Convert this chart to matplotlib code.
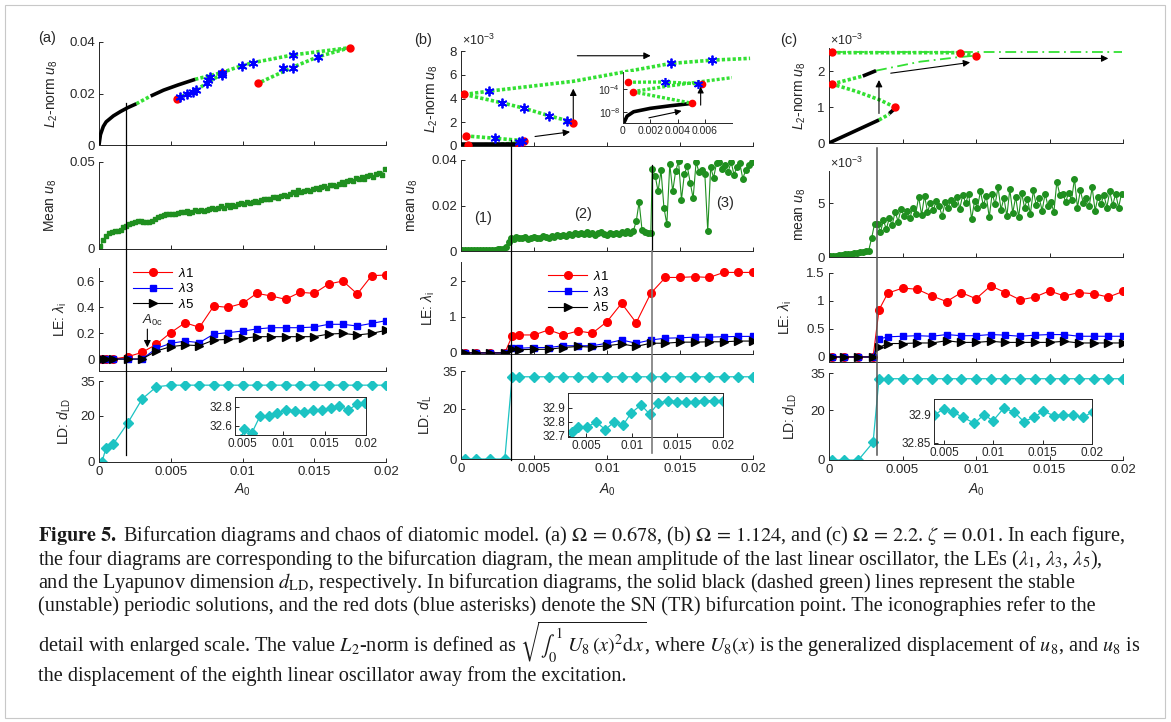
"""Bifurcation diagrams, mean amplitude, LEs and Lyapunov dimension (figure 5 recreation)."""

import numpy as np
import matplotlib
matplotlib.use("Agg")
import matplotlib.pyplot as plt
from matplotlib.lines import Line2D
from matplotlib.patches import Rectangle

W, H = 1171, 722

# ---------------- data: panel (a) ----------------
A_BLACK1_X = [0, 0.0001, 0.0003, 0.0005, 0.001, 0.0015, 0.002, 0.0026]
A_BLACK1_Y = [0, 0.004, 0.0072, 0.009, 0.0113, 0.013, 0.0145, 0.016]
A_GREEN0_X = [0.0026, 0.0036]
A_GREEN0_Y = [0.016, 0.019]
A_BLACK2_X = [0.0036, 0.0045, 0.0055, 0.0067]
A_BLACK2_Y = [0.019, 0.0213, 0.0233, 0.0255]
A_GREEN1_X = [0.0067, 0.00855, 0.00994, 0.01075, 0.01354, 0.01749]
A_GREEN1_Y = [0.0255, 0.0281, 0.0308, 0.0320, 0.0350, 0.0378]
A_GREEN2_X = [0.01749, 0.01528, 0.01354, 0.0111]
A_GREEN2_Y = [0.0378, 0.0343, 0.0303, 0.0240]
A_GREEN3_X = [0.00541, 0.00611, 0.00674, 0.0075, 0.00855]
A_GREEN3_Y = [0.01786, 0.0198, 0.0212, 0.0240, 0.0275]
A_SN_X = [0.00541, 0.01749, 0.0111, 0.00855]
A_SN_Y = [0.01786, 0.0378, 0.0240, 0.0278]
A_TR_X = [0.00564, 0.00611, 0.00657, 0.00674, 0.0075, 0.00757, 0.00773, 0.00855,
          0.00855, 0.00994, 0.01075, 0.01284, 0.01354, 0.01354, 0.01528]
A_TR_Y = [0.01877, 0.0198, 0.0207, 0.0212, 0.0240, 0.0252, 0.0265, 0.0281,
          0.0272, 0.0308, 0.0320, 0.0300, 0.0300, 0.0350, 0.0343]

A_MEAN = [0.0015, 0.0050, 0.0075, 0.0092, 0.0100, 0.0102, 0.0104, 0.0112, 0.0124, 0.0135,
          0.0145, 0.0152, 0.0158, 0.0161, 0.0160, 0.0157, 0.0154, 0.0153, 0.0160, 0.0172,
          0.0185, 0.0192, 0.0198, 0.0200, 0.0201, 0.0203, 0.0199, 0.0207, 0.0210, 0.0213,
          0.0217, 0.0208, 0.0215, 0.0222, 0.0216, 0.0226, 0.0219, 0.0224, 0.0231, 0.0234,
          0.0229, 0.0238, 0.0245, 0.0236, 0.0250, 0.0243, 0.0255, 0.0248, 0.0258, 0.0262,
          0.0256, 0.0268, 0.0264, 0.0272, 0.0277, 0.0270, 0.0282, 0.0286, 0.0290, 0.0285,
          0.0296, 0.0300, 0.0294, 0.0305, 0.0312, 0.0306, 0.0318, 0.0330, 0.0314, 0.0338,
          0.0326, 0.0334, 0.0340, 0.0333, 0.0345, 0.0350, 0.0342, 0.0356, 0.0362, 0.0352,
          0.0365, 0.0370, 0.0362, 0.0376, 0.0385, 0.0372, 0.0392, 0.0398, 0.0388, 0.0408,
          0.0400, 0.0412, 0.0403, 0.0418, 0.0425, 0.0416, 0.0430, 0.0437, 0.0428, 0.0458]

A_LE_X = [0.0002, 0.0005, 0.001, 0.002, 0.003, 0.004, 0.005, 0.006, 0.007, 0.008, 0.009,
          0.010, 0.011, 0.012, 0.013, 0.014, 0.015, 0.016, 0.017, 0.018, 0.019, 0.020]
A_L1 = [0.0, 0.0, 0.0, 0.018, 0.051, 0.113, 0.203, 0.279, 0.244, 0.408, 0.397,
        0.428, 0.505, 0.485, 0.459, 0.513, 0.505, 0.577, 0.600, 0.500, 0.641, 0.646]
A_L3 = [0, 0, 0, 0, 0, 0.082, 0.121, 0.138, 0.126, 0.192, 0.203,
        0.215, 0.231, 0.241, 0.241, 0.241, 0.246, 0.267, 0.267, 0.254, 0.274, 0.295]
A_L5 = [0, 0, 0, 0, 0, 0.062, 0.095, 0.108, 0.103, 0.146, 0.151,
        0.159, 0.172, 0.172, 0.172, 0.172, 0.172, 0.192, 0.197, 0.185, 0.197, 0.221]
A_LD = [0, 6.2, 7.8, 16.8, 27.2, 32.5, 33.2, 33.2, 33.2, 33.2, 33.2,
        33.2, 33.2, 33.2, 33.2, 33.2, 33.2, 33.2, 33.2, 33.2, 33.2, 33.2]
A_INS_X = [0.0049, 0.00524, 0.00617, 0.00718, 0.00827, 0.00927, 0.01032, 0.01141, 0.0125,
           0.01355, 0.01464, 0.01573, 0.01677, 0.01786, 0.01895, 0.01988]
A_INS_Y = [32.46, 32.565, 32.523, 32.705, 32.705, 32.734, 32.768, 32.761, 32.751,
           32.768, 32.768, 32.789, 32.814, 32.768, 32.832, 32.845]
A_CRIT = 0.00186

# ---------------- data: panel (b) ----------------  (top values in 1e-3)
B_GREEN1_X = [0.00023, 0.00192, 0.00769, 0.01436, 0.01721, 0.0198]
B_GREEN1_Y = [4.34, 4.62, 5.45, 6.95, 7.23, 7.38]
B_GREEN2_X = [0.00023, 0.00283, 0.00432, 0.00603, 0.00728, 0.00769]
B_GREEN2_Y = [4.34, 3.63, 3.18, 2.55, 2.13, 1.90]
B_GREEN3_X = [0.00032, 0.00233, 0.0043]
B_GREEN3_Y = [0.85, 0.65, 0.45]
B_GREEN4_X = [0.0005, 0.0025, 0.0041]
B_GREEN4_Y = [0.06, 0.15, 0.25]
B_BLACK_X = [0, 0.0042]
B_BLACK_Y = [0.05, 0.05]
B_SN_X = [0.00023, 0.00769, 0.00032, 0.0005, 0.00397, 0.00432]
B_SN_Y = [4.34, 1.90, 0.85, 0.06, 0.02, 0.43]
B_TR_X = [0.00192, 0.00283, 0.00432, 0.00603, 0.00728, 0.01436, 0.01721, 0.00233, 0.00416, 0.0040]
B_TR_Y = [4.62, 3.63, 3.18, 2.55, 2.13, 6.95, 7.23, 0.65, 0.43, 0.30]

# inset of (b) top, log10 of L2-norm
B_INS_BLACK_X = [0.0001, 0.0003, 0.00078, 0.002, 0.0035, 0.0051]
B_INS_BLACK_LOG = [-9.7, -8.7, -7.95, -7.36, -6.9, -6.49]
B_INS_G1_X = [0.00037, 0.0031, 0.0055]
B_INS_G1_LOG = [-2.83, -2.78, -3.1]
B_INS_G2_X = [0.0007, 0.003, 0.0057, 0.008]
B_INS_G2_LOG = [-4.47, -3.6, -2.73, -2.03]
B_INS_G3_X = [0.0007, 0.0051]
B_INS_G3_LOG = [-4.47, -6.49]
B_INS_SN_X = [0.00037, 0.0007, 0.0051, 0.0058]
B_INS_SN_LOG = [-2.83, -4.47, -6.49, -3.18]
B_INS_TR_X = [0.0031, 0.0055]
B_INS_TR_LOG = [-2.73, -3.18]

B_MEAN_1 = [0.0003, 0.0003, 0.0003, 0.0003, 0.0004, 0.0004, 0.0004, 0.0005, 0.0005,
            0.0005, 0.0006, 0.0006, 0.0007, 0.0008, 0.0010, 0.0018, 0.0040]
B_MEAN_2 = [0.0058, 0.0052, 0.0060, 0.0055, 0.0057, 0.0062, 0.0054, 0.0058, 0.0063, 0.0059,
            0.0056, 0.0064, 0.0061, 0.0058, 0.0066, 0.0062, 0.0069, 0.0064, 0.0072, 0.0067,
            0.0075, 0.0070, 0.0078, 0.0073, 0.0080, 0.0076, 0.0082, 0.0074, 0.0079, 0.0071,
            0.0077, 0.0083, 0.0075, 0.0069, 0.0078, 0.0073, 0.0080, 0.0076, 0.0084, 0.0079,
            0.0086, 0.0081, 0.0088, 0.0130, 0.0215, 0.0092, 0.0084, 0.0080, 0.0077]
B_MEAN_3 = [0.0360, 0.0330, 0.0262, 0.0355, 0.0190, 0.0118, 0.0382, 0.0262, 0.0350, 0.0395,
            0.0225, 0.0340, 0.0372, 0.0300, 0.0232, 0.0390, 0.0348, 0.0355, 0.0340, 0.0088,
            0.0368, 0.0322, 0.0385, 0.0392, 0.0360, 0.0378, 0.0348, 0.0392, 0.0335, 0.0370,
            0.0385, 0.0318, 0.0355, 0.0378, 0.0390]

B_LE_X = [0.0003, 0.001, 0.002, 0.003, 0.0035, 0.004, 0.005, 0.006, 0.007, 0.008, 0.009,
          0.010, 0.011, 0.012, 0.013, 0.014, 0.015, 0.016, 0.017, 0.018, 0.019, 0.020]
B_L1 = [0, 0, 0, 0, 0.47, 0.50, 0.50, 0.64, 0.50, 0.61, 0.55,
        0.87, 1.38, 0.84, 1.66, 2.10, 2.10, 2.12, 2.10, 2.24, 2.24, 2.24]
B_L3 = [0, 0, 0, 0, 0.15, 0.13, 0.15, 0.15, 0.20, 0.20, 0.20,
        0.27, 0.36, 0.27, 0.36, 0.41, 0.42, 0.44, 0.44, 0.45, 0.46, 0.46]
B_L5 = [0, 0, 0, 0, 0.10, 0.09, 0.10, 0.10, 0.15, 0.18, 0.16,
        0.20, 0.25, 0.18, 0.27, 0.27, 0.30, 0.30, 0.31, 0.31, 0.33, 0.33]
B_LD = [0, 0, 0, 0, 32.7, 32.7, 32.7, 32.7, 32.7, 32.7, 32.7,
        32.7, 32.7, 32.7, 32.7, 32.7, 32.7, 32.7, 32.7, 32.7, 32.7, 32.7]
B_INS_X = [0.00343, 0.00409, 0.00507, 0.0061, 0.00709, 0.008, 0.00903, 0.00991, 0.01101,
           0.01196, 0.01288, 0.01398, 0.01497, 0.01599, 0.01698, 0.01797, 0.01899, 0.01998]
B_INS_Y = [32.724, 32.762, 32.762, 32.798, 32.743, 32.795, 32.774, 32.862, 32.921,
           32.855, 32.934, 32.952, 32.945, 32.945, 32.945, 32.952, 32.952, 32.952]
B_CRIT1 = 0.00342
B_CRIT2 = 0.01308

# ---------------- data: panel (c) ----------------  (top and mean values in 1e-3)
C_BLACK1_X = [0, 0.0034]
C_BLACK1_Y = [0, 0.64]
C_GREEN1_X = [0.0034, 0.0041]
C_GREEN1_Y = [0.64, 0.80]
C_BLACK2_X = [0.0041, 0.0044]
C_BLACK2_Y = [0.82, 0.93]
C_GREEN2_X = [0.0045, 0.0035, 0.0019, 0.0002]
C_GREEN2_Y = [0.99, 1.19, 1.43, 1.64]
C_GREEN3_X = [0.0002, 0.0023]
C_GREEN3_Y = [1.64, 1.86]
C_BLACK3_X = [0.0023, 0.0032]
C_BLACK3_Y = [1.86, 2.01]
C_DASHDOT1_X = [0.0032, 0.0062, 0.0087, 0.0100]
C_DASHDOT1_Y = [2.01, 2.26, 2.38, 2.43]
C_GREEN4_X = [0.0002, 0.0089, 0.0100]
C_GREEN4_Y = [2.51, 2.51, 2.43]
C_DASHDOT2_X = [0.0002, 0.0199]
C_DASHDOT2_Y = [2.54, 2.54]
C_SN_X = [0.00018, 0.00018, 0.0045, 0.0089, 0.0100]
C_SN_Y = [2.54, 1.64, 0.99, 2.51, 2.43]

C_MEAN_1 = [0.05, 0.08, 0.12, 0.16, 0.20, 0.24, 0.28, 0.31, 0.35, 0.39, 0.43, 0.47,
            0.52, 0.60, 1.75, 3.1]
C_MEAN_2 = [3.1, 2.3, 3.4, 2.6, 3.6, 3.0, 4.2, 3.3, 4.5, 3.8, 4.3, 3.6, 4.6, 4.0, 5.6, 3.9,
            5.7, 4.2, 5.0, 4.4, 5.2, 4.7, 3.8, 5.1, 4.6, 5.3, 4.9, 5.6, 4.5, 5.8, 5.0, 5.9,
            3.5, 5.2, 4.6, 6.1, 4.8, 5.7, 3.7, 5.9, 4.9, 6.5, 4.4, 5.5, 3.8, 6.3, 4.1, 5.6,
            3.7, 6.0, 4.6, 5.4, 4.0, 6.2, 4.8, 5.5, 4.3, 5.9, 4.7, 5.1, 4.2, 7.0, 5.8, 5.9,
            5.1, 6.0, 5.3, 7.3, 4.6, 6.2, 5.0, 5.5, 4.7, 6.5, 4.3, 5.6, 4.9, 5.8, 4.6, 6.1,
            4.8, 5.9, 4.6, 5.9]

C_LE_X = [0.0002, 0.001, 0.002, 0.003, 0.0034, 0.004, 0.005, 0.006, 0.007, 0.008, 0.009,
          0.010, 0.011, 0.012, 0.013, 0.014, 0.015, 0.016, 0.017, 0.018, 0.019, 0.020]
C_L1 = [0, 0, 0, 0, 0.84, 1.14, 1.23, 1.21, 1.09, 0.99, 1.15,
        1.04, 1.27, 1.15, 1.02, 1.07, 1.18, 1.09, 1.15, 1.13, 1.07, 1.17]
C_L3 = [0, 0, 0, 0, 0.32, 0.36, 0.37, 0.38, 0.37, 0.40, 0.38,
        0.38, 0.40, 0.39, 0.37, 0.39, 0.40, 0.40, 0.37, 0.37, 0.37, 0.37]
C_L5 = [0, 0, 0, 0, 0.17, 0.24, 0.24, 0.25, 0.25, 0.29, 0.26,
        0.26, 0.28, 0.26, 0.26, 0.26, 0.26, 0.28, 0.25, 0.25, 0.25, 0.25]
C_LD = [0, 0, 0, 7.1, 32.7, 32.7, 32.7, 32.7, 32.7, 32.7, 32.7,
        32.7, 32.7, 32.7, 32.7, 32.7, 32.7, 32.7, 32.7, 32.7, 32.7, 32.7]
C_INS_X = [0.00401, 0.005, 0.00595, 0.00697, 0.00809, 0.00908, 0.00997, 0.01105, 0.01207,
           0.01309, 0.01411, 0.01507, 0.01615, 0.01711, 0.01809, 0.01911, 0.02006]
C_INS_Y = [32.898, 32.909, 32.903, 32.894, 32.884, 32.899, 32.888, 32.910, 32.904,
           32.887, 32.894, 32.905, 32.897, 32.899, 32.898, 32.894, 32.904]
C_CRIT = 0.00327

XTICKS = [0, 0.005, 0.01, 0.015, 0.02]
XTICKLABELS = ["0", "0.005", "0.01", "0.015", "0.02"]

# ---------------- style ----------------
TXT = "#262626"
GREEN = "#33e033"
DARKGREEN = "#1f8f1f"
CYAN = "#1cc3c3"
DOT = (0, (0.9, 0.6))

plt.rcParams.update({
    "font.family": ["Liberation Sans", "DejaVu Sans"],
    "mathtext.fontset": "custom",
    "mathtext.rm": "Liberation Sans",
    "mathtext.it": "Liberation Sans:italic",
    "mathtext.bf": "Liberation Sans:bold",
    "font.size": 9,
    "axes.linewidth": 0.7,
    "axes.edgecolor": TXT,
    "xtick.color": TXT,
    "ytick.color": TXT,
    "xtick.direction": "in",
    "ytick.direction": "in",
    "xtick.major.size": 3,
    "ytick.major.size": 3,
    "xtick.major.width": 0.7,
    "ytick.major.width": 0.7,
    "xtick.major.pad": 3,
    "ytick.major.pad": 3,
})


def add_px_axes(fig, xr, yr):
    x0, x1 = xr
    ytop, ybot = yr
    return fig.add_axes([x0 / W, 1 - ybot / H, (x1 - x0) / W, (ybot - ytop) / H])


def base_style(ax, ylim, yticks, yticklabels=None, bottom=False):
    ax.spines["top"].set_visible(False)
    ax.spines["right"].set_visible(False)
    ax.set_xlim(0, 0.02)
    ax.set_ylim(*ylim)
    ax.set_xticks(XTICKS)
    ax.set_yticks(yticks)
    if yticklabels is not None:
        ax.set_yticklabels(yticklabels)
    if bottom:
        ax.set_xticklabels(XTICKLABELS)
    else:
        ax.tick_params(labelbottom=False)
    ax.tick_params(labelsize=9.5)


def ylabel(fig, x, yr, text):
    fig.text(x / W, 1 - (yr[0] + yr[1]) / 2 / H, text, rotation=90,
             ha="center", va="center", fontsize=10, color=TXT)


def green(ax, x, y, ls=DOT, lw=2.6):
    ax.plot(x, y, color=GREEN, lw=lw, linestyle=ls, dash_capstyle="butt", zorder=2)


def black(ax, x, y, lw=2.6):
    ax.plot(x, y, color="black", lw=lw, solid_capstyle="butt", zorder=3)


def sn(ax, x, y):
    ax.plot(x, y, "o", color="red", ms=5, mec="red", zorder=5, ls="none")


def tr(ax, x, y):
    ax.plot(x, y, marker=(6, 2, 0), color="blue", ms=7, mew=1.3, ls="none", zorder=6)


def arrow(ax, tail, tip):
    ax.annotate("", xy=tip, xytext=tail,
                arrowprops=dict(arrowstyle="-|>", color="black", lw=0.8,
                                mutation_scale=10, shrinkA=0, shrinkB=0))


def le_plot(ax, x, l1, l3, l5):
    ax.plot(x, l1, "-o", color="red", ms=5.5, lw=0.8, label=r"$\lambda$1")
    ax.plot(x, l3, "-s", color="blue", ms=5, lw=0.8, label=r"$\lambda$3")
    ax.plot(x, l5, "->", color="black", ms=6, lw=0.8, label=r"$\lambda$5")


def ld_plot(ax, x, y):
    ax.plot(x, y, "-D", color=CYAN, ms=5, lw=0.9)


def ld_inset(ax, x, y, xlim, ylim, yticks, yticklabels):
    ax.plot(x, y, "-D", color=CYAN, ms=5, lw=0.9, clip_on=True)
    ax.set_xlim(*xlim)
    ax.set_ylim(*ylim)
    ax.set_xticks([0.005, 0.01, 0.015, 0.02])
    ax.set_xticklabels(["0.005", "0.01", "0.015", "0.02"])
    ax.set_yticks(yticks)
    ax.set_yticklabels(yticklabels)
    ax.tick_params(labelsize=8.5, pad=2)


def vline(fig, ax, a_value, ytop, ybot, color="black", lw=0.9):
    xd = ax.transData.transform((a_value, 0))[0]
    xf = fig.transFigure.inverted().transform((xd, 0))[0]
    fig.add_artist(Line2D([xf, xf], [1 - ytop / H, 1 - ybot / H], color=color, lw=lw,
                          transform=fig.transFigure, zorder=10))


fig = plt.figure(figsize=(W / 100, H / 100), dpi=100)

# ================= panel (a) =================
PA = (99, 386)
RA = [(42, 145), (162, 249), (268, 371), (381, 462)]
ax = add_px_axes(fig, PA, RA[0])
base_style(ax, (0, 0.04), [0, 0.02, 0.04], ["0", "0.02", "0.04"])
black(ax, A_BLACK1_X, A_BLACK1_Y)
green(ax, A_GREEN0_X, A_GREEN0_Y)
black(ax, A_BLACK2_X, A_BLACK2_Y)
green(ax, A_GREEN1_X, A_GREEN1_Y)
green(ax, A_GREEN2_X, A_GREEN2_Y)
green(ax, A_GREEN3_X, A_GREEN3_Y)
sn(ax, A_SN_X, A_SN_Y)
tr(ax, A_TR_X, A_TR_Y)
ylabel(fig, 52, RA[0], r"$L_2$-norm $u_8$")

ax = add_px_axes(fig, PA, RA[1])
base_style(ax, (0, 0.05), [0, 0.05], ["0", "0.05"])
a_mean_x = 0.0001 + 0.0002 * np.arange(len(A_MEAN))
ax.plot(a_mean_x, A_MEAN, "-s", color=DARKGREEN, ms=2.5, lw=0.8, mfc=DARKGREEN)
ylabel(fig, 51, RA[1], r"Mean $u_8$")

ax = add_px_axes(fig, PA, RA[2])
base_style(ax, (-0.092, 0.7), [0, 0.2, 0.4, 0.6], ["0", "0.2", "0.4", "0.6"])
le_plot(ax, A_LE_X, A_L1, A_L3, A_L5)
ax.legend(loc="upper left", bbox_to_anchor=(0.09, 1.09), frameon=False, fontsize=9.5,
          handlelength=3.0, labelspacing=0.2, borderaxespad=0.2, handletextpad=0.4)
arrow(ax, (0.00337, 0.23), (0.00337, 0.09))
ax.text(0.0037, 0.30, r"$A_{\rm 0c}$", ha="center", va="center", fontsize=9.5, color=TXT)
ylabel(fig, 60, RA[2], r"LE: $\lambda_{\rm i}$")

ax = add_px_axes(fig, PA, RA[3])
base_style(ax, (0, 35), [0, 20, 35], ["0", "20", "35"], bottom=True)
ld_plot(ax, A_LE_X, A_LD)
ax_a_ld = ax
ylabel(fig, 64, RA[3], r"LD: $d_{\rm LD}$")
fig.text((PA[0] + PA[1]) / 2 / W, 1 - 490 / H, r"$A_0$", ha="center", va="center",
         fontsize=10, color=TXT)

ins = add_px_axes(fig, (235, 366), (397, 435))
ld_inset(ins, A_INS_X, A_INS_Y, (0.00415, 0.02), (32.505, 32.905),
         [32.6, 32.8], ["32.6", "32.8"])

vline(fig, ax_a_ld, A_CRIT, 103, 455)
fig.text(38 / W, 1 - 38 / H, "(a)", fontsize=10.5, ha="left", va="center", color=TXT)

# ================= panel (b) =================
PB = (461, 753)
RB = [(51, 146), (160, 251), (262, 354), (371, 459)]
ax = add_px_axes(fig, PB, RB[0])
base_style(ax, (0, 8.0), [0, 2, 4, 6, 8], ["0", "2", "4", "6", "8"])
black(ax, B_BLACK_X, B_BLACK_Y, lw=4)
green(ax, B_GREEN1_X, B_GREEN1_Y)
green(ax, B_GREEN2_X, B_GREEN2_Y)
green(ax, B_GREEN3_X, B_GREEN3_Y)
green(ax, B_GREEN4_X, B_GREEN4_Y)
sn(ax, B_SN_X, B_SN_Y)
tr(ax, B_TR_X, B_TR_Y)
arrow(ax, (0.00797, 7.6), (0.01299, 7.6))
arrow(ax, (0.00769, 1.98), (0.00769, 4.83))
arrow(ax, (0.00507, 0.8), (0.00747, 1.19))
fig.text(462 / W, 1 - 40 / H, r"$\times10^{-3}$", fontsize=9, ha="left", va="center", color=TXT)
ylabel(fig, 432, RB[0], r"$L_2$-norm $u_8$")

ins = add_px_axes(fig, (623, 732), (72, 123))
ins.spines["top"].set_visible(False)
ins.spines["right"].set_visible(False)
ins.set_yscale("log")
ins.plot(B_INS_BLACK_X, 10.0 ** np.array(B_INS_BLACK_LOG), color="black", lw=2.6)
for gx, gl in [(B_INS_G1_X, B_INS_G1_LOG), (B_INS_G2_X, B_INS_G2_LOG), (B_INS_G3_X, B_INS_G3_LOG)]:
    ins.plot(gx, 10.0 ** np.array(gl), color=GREEN, lw=2.4, linestyle=DOT, dash_capstyle="butt")
ins.plot(B_INS_SN_X, 10.0 ** np.array(B_INS_SN_LOG), "o", color="red", ms=4.5, ls="none")
ins.plot(B_INS_TR_X, 10.0 ** np.array(B_INS_TR_LOG), marker=(6, 2, 0), color="blue",
         ms=6.5, mew=1.2, ls="none")
ins.annotate("", xy=(0.0043, 10 ** -7.8), xytext=(0.0019, 10 ** -9.0),
             arrowprops=dict(arrowstyle="-|>", color="black", lw=0.8, mutation_scale=9,
                             shrinkA=0, shrinkB=0))
ins.annotate("", xy=(0.0057, 10 ** -3.6), xytext=(0.0057, 10 ** -6.8),
             arrowprops=dict(arrowstyle="-|>", color="black", lw=0.8, mutation_scale=9,
                             shrinkA=0, shrinkB=0))
ins.set_xlim(0, 0.008)
ins.set_ylim(10 ** -9.9, 10 ** -1.05)
ins.set_xticks([0, 0.002, 0.004, 0.006])
ins.set_xticklabels(["0", "0.002", "0.004", "0.006"])
ins.set_yticks([1e-8, 1e-4])
ins.set_yticklabels([r"$10^{-8}$", r"$10^{-4}$"])
ins.minorticks_off()
ins.tick_params(labelsize=7.5, pad=2)

ax = add_px_axes(fig, PB, RB[1])
base_style(ax, (0, 0.04), [0, 0.02, 0.04], ["0", "0.02", "0.04"])
b_x1 = 0.0001 + 0.0002 * np.arange(len(B_MEAN_1))
b_x2 = 0.0034 + 0.0002 * np.arange(len(B_MEAN_2))
b_x3 = 0.0131 + 0.0002 * np.arange(len(B_MEAN_3))
ax.plot(np.concatenate([b_x1, b_x2, b_x3]), B_MEAN_1 + B_MEAN_2 + B_MEAN_3, "-o",
        color=DARKGREEN, ms=4, lw=0.8)
ax.text(0.0015, 0.0145, "(1)", fontsize=10.5, ha="center", va="center", color=TXT)
ax.text(0.00836, 0.0163, "(2)", fontsize=10.5, ha="center", va="center", color=TXT)
ax.text(0.0181, 0.0211, "(3)", fontsize=10.5, ha="center", va="center", color=TXT)
ylabel(fig, 413, RB[1], r"mean $u_8$")

ax = add_px_axes(fig, PB, RB[2])
base_style(ax, (-0.03, 2.53), [0, 1, 2], ["0", "1", "2"])
le_plot(ax, B_LE_X, B_L1, B_L3, B_L5)
ax.legend(loc="upper left", bbox_to_anchor=(0.27, 1.0), frameon=False, fontsize=9.5,
          handlelength=3.0, labelspacing=0.2, borderaxespad=0.2, handletextpad=0.4)
ylabel(fig, 428, RB[2], r"LE: $\lambda_{\rm i}$")

ax = add_px_axes(fig, PB, RB[3])
base_style(ax, (0, 35), [0, 20, 35], ["0", "20", "35"], bottom=True)
ld_plot(ax, B_LE_X, B_LD)
ax_b_ld = ax
ylabel(fig, 425, RB[3], r"LD: $d_{\rm L}$")
fig.text((PB[0] + PB[1]) / 2 / W, 1 - 490 / H, r"$A_0$", ha="center", va="center",
         fontsize=10, color=TXT)

ins = add_px_axes(fig, (568, 723), (393, 437))
ld_inset(ins, B_INS_X, B_INS_Y, (0.003, 0.02), (32.69, 33.007),
         [32.7, 32.8, 32.9], ["32.7", "32.8", "32.9"])

vline(fig, ax_b_ld, B_CRIT1, 140, 460)
vline(fig, ax_b_ld, B_CRIT2, 165, 251)
vline(fig, ax_b_ld, B_CRIT2, 251, 453, color="#7a7a7a", lw=1.2)
fig.text(414 / W, 1 - 40 / H, "(b)", fontsize=10.5, ha="left", va="center", color=TXT)

# ================= panel (c) =================
PC = (829, 1123)
RC = [(48, 143), (171, 257), (273, 362), (373, 460)]
ax = add_px_axes(fig, PC, RC[0])
base_style(ax, (0, 2.64), [0, 1, 2], ["0", "1", "2"])
black(ax, C_BLACK1_X, C_BLACK1_Y)
green(ax, C_GREEN1_X, C_GREEN1_Y)
black(ax, C_BLACK2_X, C_BLACK2_Y)
green(ax, C_GREEN2_X, C_GREEN2_Y)
green(ax, C_GREEN3_X, C_GREEN3_Y)
black(ax, C_BLACK3_X, C_BLACK3_Y)
green(ax, C_DASHDOT1_X, C_DASHDOT1_Y, ls=(0, (6, 2.5, 1, 2.5)), lw=1.3)
green(ax, C_GREEN4_X, C_GREEN4_Y)
green(ax, C_DASHDOT2_X, C_DASHDOT2_Y, ls=(0, (6, 2.5, 1, 2.5)), lw=1.3)
sn(ax, C_SN_X, C_SN_Y)
arrow(ax, (0.0034, 0.82), (0.0034, 1.75))
arrow(ax, (0.0042, 1.94), (0.0096, 2.24))
arrow(ax, (0.0116, 2.35), (0.019, 2.35))
fig.text(830 / W, 1 - 40 / H, r"$\times10^{-3}$", fontsize=9, ha="left", va="center", color=TXT)
ylabel(fig, 800, RC[0], r"$L_2$-norm $u_8$")

ax = add_px_axes(fig, PC, RC[1])
base_style(ax, (0, 8.0), [0, 5], ["0", "5"])
c_x1 = 0.0001 + 0.0002 * np.arange(len(C_MEAN_1))
c_x2 = 0.0033 + 0.0002 * np.arange(len(C_MEAN_2))
ax.plot(np.concatenate([c_x1, c_x2]), C_MEAN_1 + C_MEAN_2, "-o", color=DARKGREEN, ms=4, lw=0.8)
fig.text(830 / W, 1 - 163 / H, r"$\times10^{-3}$", fontsize=9, ha="left", va="center", color=TXT)
ylabel(fig, 801, RC[1], r"mean $u_8$")

ax = add_px_axes(fig, PC, RC[2])
base_style(ax, (-0.09, 1.5), [0, 0.5, 1, 1.5], ["0", "0.5", "1", "1.5"])
le_plot(ax, C_LE_X, C_L1, C_L3, C_L5)
ylabel(fig, 785, RC[2], r"LE: $\lambda_{\rm i}$")

ax = add_px_axes(fig, PC, RC[3])
base_style(ax, (0, 35), [0, 20, 35], ["0", "20", "35"], bottom=True)
ld_plot(ax, C_LE_X, C_LD)
ax_c_ld = ax
ylabel(fig, 790, RC[3], r"LD: $d_{\rm LD}$")
fig.text((PC[0] + PC[1]) / 2 / W, 1 - 490 / H, r"$A_0$", ha="center", va="center",
         fontsize=10, color=TXT)

ins = add_px_axes(fig, (934, 1092), (399, 444))
ld_inset(ins, C_INS_X, C_INS_Y, (0.004, 0.02), (32.848, 32.926),
         [32.85, 32.9], ["32.85", "32.9"])

vline(fig, ax_c_ld, C_CRIT, 148, 455, color="#555555", lw=1.1)
fig.text(780 / W, 1 - 40 / H, "(c)", fontsize=10.5, ha="left", va="center", color=TXT)

# ================= caption =================
CAPTION = [
    (536, r"$\mathbf{Figure\ 5.}$ Bifurcation diagrams and chaos of diatomic model. (a) $\Omega\,=\,0.678$, "
          r"(b) $\Omega\,=\,1.124$, and (c) $\Omega\,=\,2.2$. $\zeta\,=\,0.01$. In each figure,"),
    (560, r"the four diagrams are corresponding to the bifurcation diagram, the mean amplitude of the "
          r"last linear oscillator, the LEs ($\lambda_1$, $\lambda_3$, $\lambda_5$),"),
    (583, r"and the Lyapunov dimension $d_{\rm LD}$, respectively. In bifurcation diagrams, the solid "
          r"black (dashed green) lines represent the stable"),
    (606, r"(unstable) periodic solutions, and the red dots (blue asterisks) denote the SN (TR) "
          r"bifurcation point. The iconographies refer to the"),
    (642, r"detail with enlarged scale. The value $L_2$-norm is defined as "
          r"$\sqrt{\int_0^1\ U_8\,(x)^2{\rm d}x}$, where $U_8(x)$ is the generalized displacement "
          r"of $u_8$, and $u_8$ is"),
    (676, r"the displacement of the eighth linear oscillator away from the excitation."),
]
for ypx, line in CAPTION:
    fig.text(38 / W, 1 - ypx / H, line, fontsize=14.6, ha="left", va="center",
             family="Liberation Serif", math_fontfamily="stix", color="#1a1a1a")

fig.add_artist(Rectangle((5 / W, 4 / H), 1160 / W, 713 / H, transform=fig.transFigure,
                         fill=False, edgecolor="#c8c8c8", lw=0.8))

fig.savefig("out.png", dpi=100)
